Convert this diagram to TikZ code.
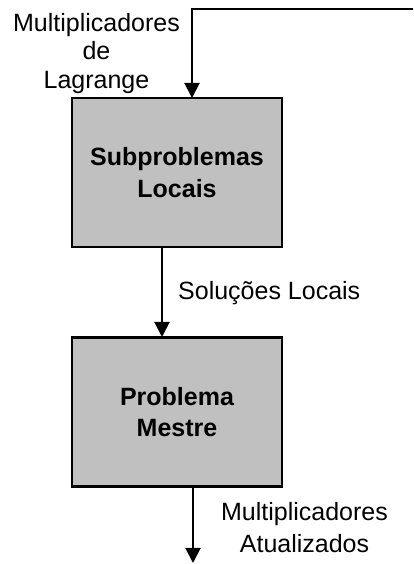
\documentclass[tikz,border=0pt]{standalone}
\usepackage{fontspec}
\setmainfont{Liberation Sans}
\usetikzlibrary{arrows.meta}
\definecolor{boxgray}{HTML}{C0C0C0}
\tikzset{
  blockbox/.style={draw=black, line width=2.2pt, fill=boxgray, minimum width=210pt,
    minimum height=149pt, inner sep=0pt, align=center,
    font=\fontsize{25}{31.5}\selectfont\bfseries},
  flowlabel/.style={inner sep=0pt, align=center, font=\fontsize{25}{31.5}\selectfont},
  flow/.style={line width=2pt, -{Triangle[width=15pt,length=15pt]}}
}
\begin{document}
\begin{tikzpicture}[x=1pt,y=1pt]
  \useasboundingbox (0,0) rectangle (414,564);
  % the two processing blocks
  \node[blockbox] (sub) at (177,391.5) {Subproblemas\\Locais};
  \node[blockbox] (mestre) at (177,152) {Problema\\Mestre};
  % feedback entering from the right edge
  \coordinate (fbin) at (413,555);
  \coordinate (fbturn) at (192,555);
  \coordinate (subin) at (192,466);
  \draw[flow] (fbin) -- (fbturn) -- (subin);
  % local solutions passed down to the master problem
  \coordinate (subout) at (162,317);
  \coordinate (mestrein) at (162,227);
  \draw[flow] (subout) -- (mestrein);
  % updated multipliers leaving the master problem
  \coordinate (mestreout) at (193,77.5);
  \coordinate (outend) at (193,1);
  \draw[flow] (mestreout) -- (outend);
  % labels
  \node[flowlabel, font=\fontsize{25}{28.5}\selectfont] (lagr) at (96.5,510.5)
    {Multiplicadores\\de\\Lagrange};
  \node[flowlabel, anchor=base west] (sol) at (178,264) {Soluções Locais};
  \node[flowlabel] (atual) at (304.5,36.5) {Multiplicadores\\Atualizados};
\end{tikzpicture}
\end{document}
